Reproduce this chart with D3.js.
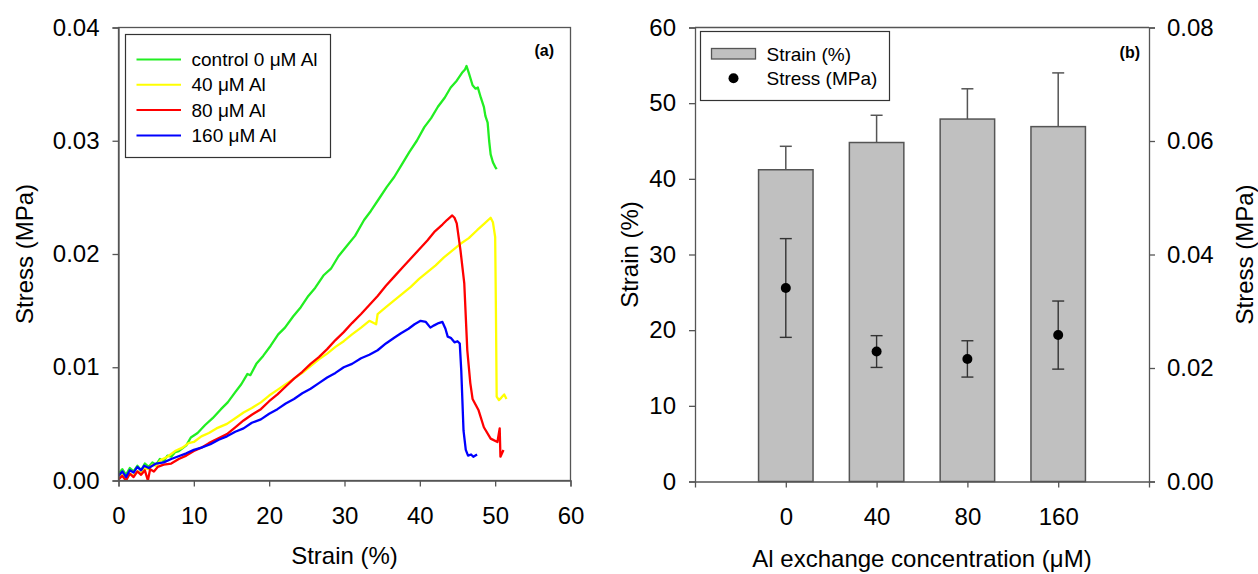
<!DOCTYPE html>
<html>
<head>
<meta charset="utf-8">
<script src="https://cdn.jsdelivr.net/npm/d3@7"></script>
<style>
  body { margin: 0; background: #fff; }
  svg { font-family: "Liberation Sans", Arial, sans-serif; }
</style>
</head>
<body>
<div id="chart"></div>
<script>
// ---- panel (a): stress-strain curves [strain %, stress MPa] ----
const curveNames = ["control 0 \u03bcM Al", "40 \u03bcM Al", "80 \u03bcM Al", "160 \u03bcM Al"];
const curveColors = ["#22ee22", "#ffff00", "#ff0000", "#0000ff"];

const control0 = [[0,0.0006],[0.5,0.0010],[1,0.0005],[1.5,0.0011],[2,0.0008],[2.5,0.0013],[3,0.0009],[3.5,0.0015],[4,0.0012],[4.5,0.0016],[5,0.0014],[5.5,0.0019],[6,0.0017],[6.5,0.0022],[7,0.0021],[7.5,0.0025],[8,0.0026],[9,0.0031],[9.6,0.0038],[10.5,0.0042],[11.5,0.0049],[12.5,0.0055],[13.6,0.0063],[14.5,0.0069],[15.5,0.0078],[16.3,0.0085],[17.1,0.0094],[17.5,0.0093],[18.3,0.0103],[19.2,0.0110],[20.2,0.0119],[21.2,0.0129],[22.1,0.0135],[23.2,0.0145],[24.2,0.0153],[25.2,0.0163],[26.1,0.0170],[27.2,0.0181],[28.2,0.0187],[29.2,0.0198],[30.3,0.0207],[31.4,0.0216],[32.6,0.0230],[33.5,0.0238],[34.6,0.0249],[35.6,0.0259],[36.6,0.0268],[37.6,0.0279],[38.6,0.0290],[39.6,0.0300],[40.6,0.0312],[41.5,0.0320],[42.4,0.0330],[43.3,0.0338],[44.1,0.0347],[44.9,0.0353],[45.6,0.0360],[46.0,0.0363],[46.2,0.0366],[46.5,0.0360],[47.0,0.0349],[47.4,0.0346],[47.7,0.0347],[48.1,0.0338],[48.5,0.0330],[48.7,0.0322],[49.0,0.0316],[49.2,0.0300],[49.4,0.0288],[49.7,0.0281],[50.0,0.0277],[50.2,0.0275]];

const al40 = [[0,0.0002],[0.5,0.0005],[1,0.0001],[1.5,0.0006],[2,0.0004],[2.5,0.0008],[3,0.0007],[3.5,0.0011],[4,0.0010],[4.5,0.0014],[5,0.0013],[5.6,0.0018],[6.5,0.0021],[7.5,0.0026],[8.5,0.0029],[9.3,0.0033],[10,0.0034],[11,0.0039],[12,0.0042],[13,0.0046],[14.4,0.0050],[15.5,0.0055],[16.6,0.0060],[17.7,0.0064],[18.9,0.0069],[20,0.0075],[21.1,0.0080],[22.2,0.0085],[23.3,0.0090],[24.4,0.0095],[25.5,0.0101],[26.6,0.0107],[27.7,0.0112],[28.8,0.0118],[29.9,0.0123],[31,0.0129],[32.2,0.0135],[33.3,0.0141],[34.2,0.0138],[34.4,0.0147],[35.5,0.0153],[36.6,0.0159],[37.7,0.0165],[38.8,0.0171],[39.9,0.0178],[41,0.0184],[42.1,0.0190],[43.2,0.0197],[44.3,0.0203],[45.4,0.0209],[46.5,0.0214],[47.6,0.0221],[48.6,0.0227],[49.4,0.0232],[49.7,0.0228],[50.0,0.0215],[50.1,0.0150],[50.2,0.0074],[50.5,0.0071],[50.8,0.0073],[51.2,0.0076],[51.5,0.0072]];

const al80 = [[0,0.0001],[0.5,0.0004],[1,0.0000],[1.5,0.0006],[2,0.0003],[2.5,0.0008],[3,0.0005],[3.5,0.0009],[3.9,0.0000],[4.2,0.0010],[4.7,0.0008],[5.2,0.0012],[6,0.0014],[7,0.0015],[8,0.0019],[9,0.0022],[10,0.0026],[11,0.0029],[12,0.0033],[13.2,0.0037],[14.4,0.0041],[15.5,0.0047],[16.6,0.0053],[17.7,0.0058],[18.9,0.0063],[20,0.0070],[21.1,0.0076],[22.2,0.0083],[23.3,0.0090],[24.4,0.0096],[25.5,0.0103],[26.6,0.0109],[27.7,0.0116],[28.8,0.0124],[29.9,0.0131],[31,0.0139],[32.2,0.0147],[33.3,0.0155],[34.4,0.0163],[35.5,0.0172],[36.6,0.0180],[37.7,0.0188],[38.8,0.0196],[39.9,0.0204],[41,0.0212],[42,0.0220],[43,0.0226],[43.6,0.0230],[44.3,0.0234],[44.6,0.0232],[44.9,0.0227],[45.4,0.0203],[45.9,0.0174],[46.3,0.0115],[46.7,0.0086],[47.0,0.0072],[47.8,0.0062],[48.5,0.0047],[49.4,0.0037],[50.3,0.0034],[50.6,0.0046],[50.7,0.0021],[51.1,0.0027]];

const al160 = [[0,0.0004],[0.5,0.0008],[1,0.0003],[1.5,0.0009],[2,0.0007],[2.5,0.0012],[3,0.0009],[3.4,0.0013],[4,0.0011],[5,0.0015],[6,0.0016],[7,0.0019],[7.8,0.0021],[9,0.0024],[10,0.0027],[11,0.0029],[12.2,0.0032],[13.3,0.0036],[14.4,0.0039],[15.5,0.0043],[16.6,0.0046],[17.7,0.0051],[18.9,0.0054],[20,0.0059],[21.1,0.0063],[22.2,0.0068],[23.3,0.0072],[24.4,0.0077],[25.5,0.0081],[26.6,0.0086],[27.7,0.0091],[28.8,0.0095],[29.9,0.0100],[31,0.0103],[32.2,0.0108],[33.3,0.0111],[34.4,0.0115],[35.5,0.0121],[36.6,0.0126],[37.5,0.0130],[38.5,0.0134],[39.3,0.0138],[40.1,0.0141],[40.8,0.0140],[41.4,0.0135],[41.9,0.0137],[42.5,0.0139],[43.0,0.0140],[43.4,0.0134],[43.7,0.0127],[44.1,0.0126],[44.6,0.0122],[45.0,0.0123],[45.3,0.0121],[45.5,0.0097],[45.8,0.0044],[46.1,0.0027],[46.4,0.0022],[46.8,0.0023],[47.1,0.0021],[47.6,0.0023]];

const curves = [control0, al40, al80, al160];
const strainTicksA = [0, 10, 20, 30, 40, 50, 60];
const stressTicksA = [0, 0.01, 0.02, 0.03, 0.04];

// ---- panel (b): bars (strain) + points (stress) ----
const concentrations = ["0", "40", "80", "160"];
const strainMean = [41.2, 44.8, 47.9, 46.9];
const strainErr = [3.1, 3.6, 4.0, 7.1];
const stressMean = [0.0341, 0.0229, 0.0216, 0.0258];
const stressErr = [0.0087, 0.0028, 0.0032, 0.0060];
const strainTicksB = [0, 10, 20, 30, 40, 50, 60];
const stressTicksB = [0, 0.02, 0.04, 0.06, 0.08];

const W = 1258, H = 574;
const svg = d3.select("#chart").append("svg").attr("width", W).attr("height", H);

const axisColor = "#555";
const tickFont = 24;

function styleAxis(g) {
  g.select(".domain").attr("stroke", axisColor).attr("stroke-width", 1.3);
  g.selectAll(".tick line").attr("stroke", axisColor).attr("stroke-width", 1.3);
  g.selectAll(".tick text").attr("fill", "#000").style("font-size", tickFont + "px")
    .style("font-family", "'Liberation Sans', Arial, sans-serif");
}

// ===== Panel (a) =====
const xA = d3.scaleLinear().domain([0, 60]).range([118.5, 570.5]);
const yA = d3.scaleLinear().domain([0, 0.04]).range([480.5, 27.5]);

svg.append("clipPath").attr("id", "clipA").append("rect")
  .attr("x", xA(0)).attr("y", yA(0.04)).attr("width", xA(60) - xA(0)).attr("height", yA(0) - yA(0.04));

const line = d3.line().x(d => xA(d[0])).y(d => yA(d[1]));

svg.append("g").attr("clip-path", "url(#clipA)")
  .selectAll("path").data(curves).join("path")
  .attr("fill", "none")
  .attr("stroke", (d, i) => curveColors[i])
  .attr("stroke-width", 2.3)
  .attr("stroke-linejoin", "round")
  .attr("d", line);

// frame
svg.append("rect")
  .attr("x", xA(0)).attr("y", yA(0.04))
  .attr("width", xA(60) - xA(0)).attr("height", yA(0) - yA(0.04))
  .attr("fill", "none").attr("stroke", axisColor).attr("stroke-width", 1.3);

svg.append("g").attr("transform", `translate(0,${yA(0)})`)
  .call(d3.axisBottom(xA).tickValues(strainTicksA).tickSizeOuter(0).tickSize(6).tickPadding(20).tickFormat(d3.format("d")))
  .call(styleAxis);

svg.append("g").attr("transform", `translate(${xA(0)},0)`)
  .call(d3.axisLeft(yA).tickValues(stressTicksA).tickSizeOuter(0).tickSize(6).tickPadding(13).tickFormat(d3.format(".2f")))
  .call(styleAxis);

svg.append("text").attr("x", (xA(0) + xA(60)) / 2).attr("y", 564)
  .attr("text-anchor", "middle").style("font-size", "24px").text("Strain (%)");
svg.append("text").attr("transform", `translate(25,${(yA(0) + yA(0.04)) / 2}) rotate(-90)`)
  .attr("dy", "0.35em").attr("text-anchor", "middle").style("font-size", "24px").text("Stress (MPa)");

svg.append("text").attr("x", 554).attr("y", 56).attr("text-anchor", "end")
  .style("font-size", "16px").style("font-weight", "bold").text("(a)");

// legend (a)
const legA = svg.append("g");
legA.append("rect").attr("x", 125.5).attr("y", 34.5).attr("width", 205).attr("height", 123)
  .attr("fill", "#fff").attr("stroke", "#333").attr("stroke-width", 1.2);
curveNames.forEach((name, i) => {
  const yy = 59.5 + i * 25.3;
  legA.append("line").attr("x1", 136.5).attr("x2", 181).attr("y1", yy).attr("y2", yy)
    .attr("stroke", curveColors[i]).attr("stroke-width", 2);
  legA.append("text").attr("x", 191.5).attr("y", yy).attr("dy", "0.35em")
    .style("font-size", "19px").text(name);
});

// ===== Panel (b) =====
const xB = d3.scaleLinear().domain([0, 5]).range([695, 1149]);
const yB = d3.scaleLinear().domain([0, 60]).range([481.5, 27.5]);
const yB2 = d3.scaleLinear().domain([0, 0.08]).range([481.5, 27.5]);
const step = xB(1) - xB(0);
const barW = step * 0.6;
const capW = 12;

const gb = svg.append("g");
// strain error bars (upward only)
concentrations.forEach((c, i) => {
  const cx = xB(i + 1);
  gb.append("line").attr("x1", cx).attr("x2", cx)
    .attr("y1", yB(strainMean[i])).attr("y2", yB(strainMean[i] + strainErr[i]))
    .attr("stroke", axisColor).attr("stroke-width", 1.5);
  gb.append("line").attr("x1", cx - capW / 2).attr("x2", cx + capW / 2)
    .attr("y1", yB(strainMean[i] + strainErr[i])).attr("y2", yB(strainMean[i] + strainErr[i]))
    .attr("stroke", axisColor).attr("stroke-width", 1.5);
});

gb.selectAll("rect.bar").data(strainMean).join("rect")
  .attr("class", "bar")
  .attr("x", (d, i) => xB(i + 1) - barW / 2)
  .attr("y", d => yB(d))
  .attr("width", barW)
  .attr("height", d => yB(0) - yB(d))
  .attr("fill", "#c0c0c0").attr("stroke", "#555").attr("stroke-width", 1.5);

// stress error bars + points
concentrations.forEach((c, i) => {
  const cx = xB(i + 1);
  const lo = yB2(stressMean[i] - stressErr[i]), hi = yB2(stressMean[i] + stressErr[i]);
  gb.append("line").attr("x1", cx).attr("x2", cx).attr("y1", lo).attr("y2", hi)
    .attr("stroke", "#333").attr("stroke-width", 1.4);
  [lo, hi].forEach(yy => gb.append("line").attr("x1", cx - capW / 2).attr("x2", cx + capW / 2)
    .attr("y1", yy).attr("y2", yy).attr("stroke", "#333").attr("stroke-width", 1.4));
});
gb.selectAll("circle.pt").data(stressMean).join("circle")
  .attr("class", "pt")
  .attr("cx", (d, i) => xB(i + 1)).attr("cy", d => yB2(d)).attr("r", 5).attr("fill", "#000");

// top frame line
svg.append("line").attr("x1", xB(0)).attr("x2", xB(5)).attr("y1", yB(60)).attr("y2", yB(60))
  .attr("stroke", axisColor).attr("stroke-width", 1.3);

svg.append("g").attr("transform", `translate(0,${yB(0)})`)
  .call(d3.axisBottom(xB).tickValues([1, 2, 3, 4]).tickSizeOuter(0).tickSize(6).tickPadding(20)
    .tickFormat(d => concentrations[d - 1]))
  .call(styleAxis);

svg.append("g").attr("transform", `translate(${xB(0)},0)`)
  .call(d3.axisLeft(yB).tickValues(strainTicksB).tickSizeOuter(0).tickSize(6).tickPadding(13).tickFormat(d3.format("d")))
  .call(styleAxis);

svg.append("g").attr("transform", `translate(${xB(5)},0)`)
  .call(d3.axisRight(yB2).tickValues(stressTicksB).tickSizeOuter(0).tickSize(6).tickPadding(12).tickFormat(d3.format(".2f")))
  .call(styleAxis);

svg.append("text").attr("x", (xB(0) + xB(5)) / 2).attr("y", 567)
  .attr("text-anchor", "middle").style("font-size", "24px").text("Al exchange concentration (\u03bcM)");
svg.append("text").attr("transform", `translate(630,${(yB(0) + yB(60)) / 2}) rotate(-90)`)
  .attr("dy", "0.35em").attr("text-anchor", "middle").style("font-size", "24px").text("Strain (%)");
svg.append("text").attr("transform", `translate(1245,${(yB(0) + yB(60)) / 2}) rotate(-90)`)
  .attr("dy", "0.35em").attr("text-anchor", "middle").style("font-size", "24px").text("Stress (MPa)");

svg.append("text").attr("x", 1140).attr("y", 57.5).attr("text-anchor", "end")
  .style("font-size", "16px").style("font-weight", "bold").text("(b)");

// legend (b)
const legB = svg.append("g");
legB.append("rect").attr("x", 700.5).attr("y", 31.5).attr("width", 189).attr("height", 69)
  .attr("fill", "#fff").attr("stroke", "#333").attr("stroke-width", 1.2);
legB.append("rect").attr("x", 711.5).attr("y", 48.5).attr("width", 44).attr("height", 10.5)
  .attr("fill", "#c0c0c0").attr("stroke", "#555").attr("stroke-width", 1.3);
legB.append("text").attr("x", 766.5).attr("y", 54).attr("dy", "0.35em").style("font-size", "19px").text("Strain (%)");
legB.append("circle").attr("cx", 733.5).attr("cy", 78.3).attr("r", 5).attr("fill", "#000");
legB.append("text").attr("x", 766.5).attr("y", 78.3).attr("dy", "0.35em").style("font-size", "19px").text("Stress (MPa)");
</script>
</body>
</html>
